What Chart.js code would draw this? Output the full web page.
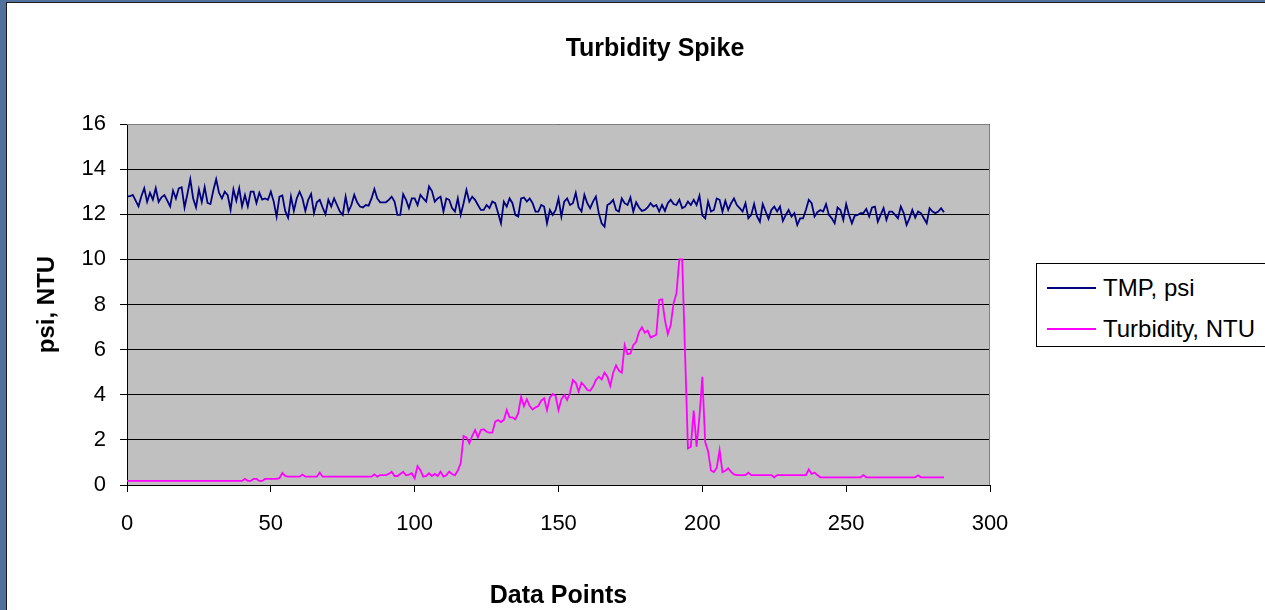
<!DOCTYPE html>
<html>
<head>
<meta charset="utf-8">
<title>Turbidity Spike</title>
<script src="https://cdn.jsdelivr.net/npm/chart.js@4/dist/chart.umd.min.js"></script>
<style>
  html, body { margin:0; padding:0; width:1265px; height:610px; overflow:hidden; background:#fff;
    font-family:"Liberation Sans", Arial, sans-serif; }
  #frame { position:absolute; left:0; top:0; width:1265px; height:610px; background:#4f719b; }
  #inner { position:absolute; left:6px; top:2px; right:0; bottom:0; background:#fff;
    border-left:1px solid #1b1b1b; border-top:1px solid #1b1b1b; }
  #c { position:absolute; left:0; top:0; }
  #title { position:absolute; left:0; width:1310px; top:32px; line-height:30px; text-align:center;
    font-weight:bold; font-size:25px; color:#000; }
  #legend { position:absolute; left:1036px; top:263px; width:260px; height:84px; box-sizing:border-box;
    border:1px solid #000; background:#fff; }
  #legend .item { position:absolute; left:0; height:30px; line-height:30px; font-size:24px; color:#000; white-space:nowrap; }
  #legend .swatch { position:absolute; left:10px; top:14px; width:49px; height:2px; }
  #legend .label { position:absolute; left:66px; top:0; }
</style>
</head>
<body>
<div id="frame"><div id="inner"></div></div>
<canvas id="c" width="1265" height="610"></canvas>
<div id="title">Turbidity Spike</div>
<div id="legend">
  <div class="item" style="top:9px"><span class="swatch" style="background:#000080"></span><span class="label">TMP, psi</span></div>
  <div class="item" style="top:50px"><span class="swatch" style="background:#ff00ff"></span><span class="label">Turbidity, NTU</span></div>
</div>
<script>
// axis ticks
const xTicks = [0, 50, 100, 150, 200, 250, 300];
const yTicks = [0, 2, 4, 6, 8, 10, 12, 14, 16];

// TMP, psi  (one reading per data point, 0..284)
const tmp = [
  12.78, 12.8, 12.86, 12.6, 12.35, 12.8, 13.15, 12.55, 12.95, 12.65,
  13.15, 12.55, 12.75, 12.85, 12.6, 12.35, 13.05, 12.7, 13.15, 13.2,
  12.3, 12.9, 13.55, 12.7, 12.3, 13.1, 12.55, 13.2, 12.5, 12.45,
  13.05, 13.55, 12.95, 12.7, 13.0, 12.85, 12.2, 13.1, 12.6, 13.15,
  12.35, 12.85, 12.35, 13.0, 13.0, 12.5, 12.95, 12.65, 12.7, 12.64,
  13.0, 12.56, 11.9, 12.78, 12.83, 12.15, 11.85, 12.78, 12.15, 12.7,
  13.0, 12.7, 12.15, 12.64, 12.9, 12.05, 12.53, 12.64, 12.3, 12.0,
  12.64, 12.34, 12.7, 12.41, 12.12, 11.97, 12.78, 12.12, 12.41, 12.86,
  12.53, 12.34, 12.3, 12.41, 12.38, 12.7, 13.12, 12.7, 12.53, 12.53,
  12.53, 12.64, 12.78, 12.56, 11.97, 11.97, 12.89, 12.64, 12.27, 12.7,
  12.7, 12.41, 12.86, 12.7, 12.56, 13.23, 13.03, 12.56, 12.7, 12.78,
  12.12, 12.7, 12.64, 12.27, 12.12, 12.7, 11.97, 12.49, 13.08, 12.56,
  12.78, 12.64, 12.41, 12.19, 12.19, 12.41, 12.27, 12.56, 12.49, 12.05,
  11.6, 12.56, 12.34, 12.7, 12.49, 11.97, 11.9, 12.7, 12.74, 12.56,
  12.7, 12.49, 12.12, 12.12, 12.41, 12.34, 11.6, 12.19, 11.97, 12.19,
  12.7, 11.9, 12.56, 12.7, 12.41, 12.49, 12.95, 12.3, 12.12, 12.86,
  12.49, 12.27, 12.56, 12.78, 12.05, 11.6, 11.45, 12.41, 12.49, 12.64,
  12.19, 12.12, 12.7, 12.49, 12.41, 12.74, 12.12, 12.53, 12.3, 12.15,
  12.19, 12.3, 12.49, 12.34, 12.41, 12.12, 12.41, 12.15, 12.49, 12.64,
  12.45, 12.41, 12.64, 12.27, 12.34, 12.56, 12.41, 12.64, 12.41, 12.82,
  11.95, 11.82, 12.56, 12.12, 12.19, 12.7, 12.64, 12.12, 12.59, 12.19,
  12.49, 12.7, 12.41, 12.27, 12.12, 12.49, 11.82, 11.97, 12.45, 11.9,
  11.67, 12.45, 12.12, 11.8, 12.19, 12.34, 12.12, 12.34, 11.7, 11.97,
  12.19, 11.9, 12.05, 11.53, 11.82, 11.82, 12.19, 12.64, 12.49, 11.9,
  12.09, 12.19, 12.12, 12.45, 11.97, 11.82, 11.6, 12.3, 12.19, 11.75,
  12.45, 11.97, 11.6, 11.94, 11.97, 12.05, 12.05, 12.24, 11.9, 12.3,
  12.34, 11.67, 11.97, 12.27, 11.75, 12.12, 12.12, 11.97, 11.82, 12.34,
  12.05, 11.53, 11.82, 12.19, 11.85, 12.12, 12.05, 11.82, 11.6, 12.27,
  12.12, 12.05, 12.12, 12.27, 12.09
];

// Turbidity, NTU
const turbidity = [
  0.18, 0.18, 0.18, 0.18, 0.18, 0.18, 0.18, 0.18, 0.18, 0.18,
  0.18, 0.18, 0.18, 0.18, 0.18, 0.18, 0.18, 0.18, 0.18, 0.18,
  0.18, 0.18, 0.18, 0.18, 0.18, 0.18, 0.18, 0.18, 0.18, 0.18,
  0.18, 0.18, 0.18, 0.18, 0.18, 0.18, 0.18, 0.18, 0.18, 0.18,
  0.18, 0.27, 0.18, 0.18, 0.27, 0.27, 0.18, 0.18, 0.27, 0.27,
  0.27, 0.27, 0.27, 0.3, 0.53, 0.4, 0.37, 0.37, 0.37, 0.37,
  0.37, 0.46, 0.37, 0.37, 0.37, 0.37, 0.37, 0.55, 0.37, 0.37,
  0.37, 0.37, 0.37, 0.37, 0.37, 0.37, 0.37, 0.37, 0.37, 0.37,
  0.37, 0.37, 0.37, 0.37, 0.37, 0.37, 0.47, 0.37, 0.44, 0.44,
  0.44, 0.49, 0.59, 0.4, 0.4, 0.49, 0.59, 0.43, 0.46, 0.52,
  0.3, 0.84, 0.66, 0.37, 0.4, 0.52, 0.4, 0.49, 0.4, 0.59,
  0.37, 0.43, 0.6, 0.49, 0.43, 0.64, 0.96, 2.17, 2.11, 1.85,
  2.17, 2.44, 2.11, 2.44, 2.47, 2.36, 2.32, 2.32, 2.81, 2.88,
  2.79, 2.88, 3.32, 3.0, 3.0, 2.91, 3.18, 3.91, 3.5, 3.8,
  3.5, 3.35, 3.44, 3.5, 3.74, 3.84, 3.32, 3.88, 4.03, 3.94,
  3.32, 3.8, 3.99, 3.77, 4.09, 4.65, 4.53, 4.14, 4.53, 4.4,
  4.21, 4.18, 4.36, 4.65, 4.8, 4.68, 4.98, 4.8, 4.39, 4.98,
  5.3, 5.07, 4.98, 6.2, 5.8, 5.83, 6.2, 6.35, 6.79, 6.99,
  6.75, 6.84, 6.54, 6.6, 6.66, 8.2, 8.23, 7.31, 6.69, 7.09,
  8.05, 8.49, 10.0, 10.0, 5.8, 1.62, 1.7, 3.3, 1.7, 3.03,
  4.8, 1.9, 1.5, 0.65, 0.57, 0.76, 1.55, 0.57, 0.63, 0.74,
  0.58, 0.47, 0.44, 0.44, 0.44, 0.44, 0.55, 0.44, 0.44, 0.44,
  0.44, 0.44, 0.44, 0.44, 0.44, 0.34, 0.44, 0.44, 0.44, 0.44,
  0.44, 0.44, 0.44, 0.44, 0.44, 0.44, 0.44, 0.69, 0.49, 0.55,
  0.44, 0.34, 0.34, 0.34, 0.34, 0.34, 0.34, 0.34, 0.34, 0.34,
  0.34, 0.34, 0.34, 0.34, 0.34, 0.34, 0.44, 0.34, 0.34, 0.34,
  0.34, 0.34, 0.34, 0.34, 0.34, 0.34, 0.34, 0.34, 0.34, 0.34,
  0.34, 0.34, 0.34, 0.34, 0.34, 0.43, 0.34, 0.34, 0.34, 0.34,
  0.34, 0.34, 0.34, 0.34, 0.34
];

const FONT = '"Liberation Sans", Arial, sans-serif';
const toXY = arr => arr.map((v, i) => ({ x: i, y: v }));

// grey plot area + grey top/right edges, like the spreadsheet chart
const plotArea = {
  id: 'plotArea',
  beforeDraw(chart) {
    const { ctx, chartArea: a } = chart;
    ctx.save();
    ctx.fillStyle = '#c0c0c0';
    ctx.fillRect(a.left, a.top, a.right - a.left, a.bottom - a.top);
    ctx.restore();
  },
  afterDraw(chart) {
    const { ctx, chartArea: a } = chart;
    ctx.save();
    ctx.strokeStyle = '#808080';
    ctx.lineWidth = 1;
    ctx.beginPath();
    ctx.moveTo(a.left, a.top + 0.5);
    ctx.lineTo(a.right - 0.5, a.top + 0.5);
    ctx.lineTo(a.right - 0.5, a.bottom);
    ctx.stroke();
    ctx.restore();
  }
};

new Chart(document.getElementById('c'), {
  type: 'line',
  data: {
    datasets: [
      { label: 'TMP, psi', data: toXY(tmp), borderColor: '#000080', borderWidth: 1.8, pointRadius: 0, tension: 0 },
      { label: 'Turbidity, NTU', data: toXY(turbidity), borderColor: '#ff00ff', borderWidth: 1.8, pointRadius: 0, tension: 0 }
    ]
  },
  options: {
    responsive: false,
    animation: false,
    events: [],
    devicePixelRatio: 1,
    layout: { padding: { left: 0, top: 124, right: 275, bottom: 0 } },
    plugins: { legend: { display: false }, title: { display: false }, tooltip: { enabled: false } },
    scales: {
      x: {
        type: 'linear', min: xTicks[0], max: xTicks[xTicks.length - 1],
        afterBuildTicks: s => { s.ticks = xTicks.map(v => ({ value: v })); },
        afterFit: s => { s.height = 125; },
        grid: { drawOnChartArea: false, drawTicks: true, tickLength: 7, color: '#000' },
        border: { display: true, color: '#000', width: 1 },
        ticks: { color: '#000', font: { family: FONT, size: 22 }, padding: 19, maxRotation: 0 },
        title: { display: true, text: 'Data Points', color: '#000',
          font: { family: FONT, size: 25, weight: 'bold', lineHeight: 1.1 }, padding: { top: 0, bottom: 0 } }
      },
      y: {
        min: yTicks[0], max: yTicks[yTicks.length - 1],
        afterBuildTicks: s => { s.ticks = yTicks.map(v => ({ value: v })); },
        afterFit: s => { s.width = 127; },
        grid: { drawOnChartArea: true, drawTicks: true, tickLength: 7, color: '#000' },
        border: { display: true, color: '#000', width: 1 },
        ticks: { color: '#000', font: { family: FONT, size: 22 }, padding: 14 },
        title: { display: true, text: 'psi, NTU', color: '#000',
          font: { family: FONT, size: 24, weight: 'bold', lineHeight: 1.1 }, padding: { top: 34, bottom: 0 } }
      }
    }
  },
  plugins: [plotArea]
});
</script>
</body>
</html>
